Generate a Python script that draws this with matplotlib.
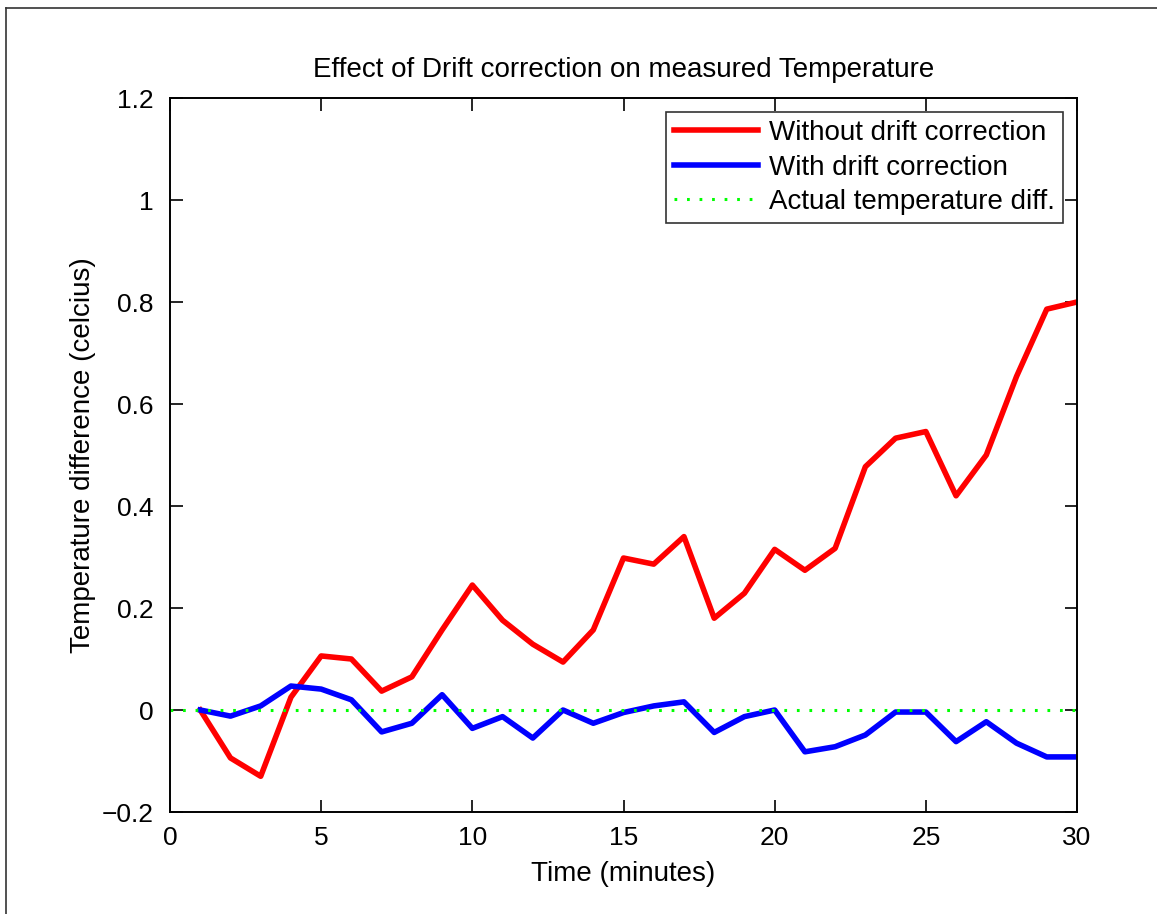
import matplotlib.pyplot as plt
from matplotlib.lines import Line2D

plt.rcParams['font.family'] = ['Liberation Sans', 'DejaVu Sans']

minutes = list(range(1, 31))
without_corr = [0.0, -0.094, -0.13, 0.025, 0.106, 0.10, 0.037, 0.065, 0.157, 0.245,
                0.176, 0.129, 0.094, 0.157, 0.298, 0.286, 0.34, 0.18, 0.229, 0.315,
                0.274, 0.317, 0.477, 0.533, 0.546, 0.42, 0.50, 0.654, 0.786, 0.80]
with_corr = [0.0, -0.012, 0.008, 0.047, 0.041, 0.02, -0.043, -0.026, 0.03, -0.036,
             -0.013, -0.055, 0.0, -0.026, -0.005, 0.008, 0.016, -0.044, -0.013, 0.0,
             -0.082, -0.072, -0.049, -0.004, -0.004, -0.062, -0.023, -0.065, -0.092, -0.092]
actual_x = [0, 30]
actual_diff = [0, 0]

fig = plt.figure(figsize=(11.57, 9.14), dpi=100)
ax = fig.add_axes([170 / 1157, 1 - 812 / 914, 907 / 1157, 714 / 914])

ax.plot(minutes, without_corr, color='#ff0000', lw=4, label='Without drift correction')
ax.plot(minutes, with_corr, color='#0000ff', lw=4, label='With drift correction')
ax.plot(actual_x, actual_diff, color='#00ff00', lw=2.2, linestyle=(0, (0.9, 3.2)),
        label='Actual temperature diff.')

ax.set_xlim(0, 30)
ax.set_ylim(-0.2, 1.2)
ax.set_xticks([0, 5, 10, 15, 20, 25, 30])
ax.set_yticks([-0.2, 0, 0.2, 0.4, 0.6, 0.8, 1, 1.2])
ax.set_yticklabels(['\u22120.2', '0', '0.2', '0.4', '0.6', '0.8', '1', '1.2'])
ax.tick_params(direction='in', top=True, right=True, length=9, width=1.2,
               labelsize=19)
ax.tick_params(axis='x', pad=10)
ax.tick_params(axis='y', pad=12)
for sp in ax.spines.values():
    sp.set_linewidth(1.4)

ax.set_title('Effect of Drift correction on measured Temperature', fontsize=20, pad=15)
ax.set_xlabel('Time (minutes)', fontsize=20, labelpad=8)
ax.set_ylabel('Temperature difference (celcius)', fontsize=20, labelpad=4)

leg = ax.legend(loc='upper right', fontsize=20, frameon=True, fancybox=False,
                handlelength=3.0, borderpad=0.3, labelspacing=0.3,
                borderaxespad=0.5, handletextpad=0.4)
leg.get_frame().set_edgecolor('black')
leg.get_frame().set_linewidth(1.2)

# thin frame around the figure (top and left edges are visible)
fig.add_artist(Line2D([6 / 1157, 1], [1 - 8 / 914, 1 - 8 / 914], transform=fig.transFigure,
                      color='#333333', lw=1.2))
fig.add_artist(Line2D([6 / 1157, 6 / 1157], [0, 1 - 8 / 914], transform=fig.transFigure,
                      color='#333333', lw=1.2))

fig.savefig('out.png', dpi=100)
